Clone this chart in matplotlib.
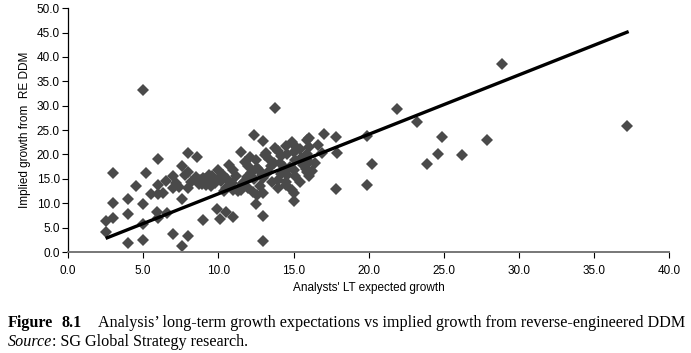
import matplotlib
matplotlib.use("Agg")
import matplotlib.pyplot as plt

# Analysts' LT expected growth (x) vs implied growth from RE DDM (y)
analyst_growth = [
    2.5, 2.5, 3.0, 3.0, 3.0, 4.0, 4.0, 4.0, 4.5, 5.0, 5.0, 5.0, 5.0, 5.2, 5.5,
    6.0, 6.0, 6.0, 5.9, 6.0, 6.5, 6.6, 7.0, 7.0, 7.0, 7.6, 7.6, 7.6, 8.0, 8.0,
    8.0, 8.0, 8.6, 9.0, 9.9, 10.1, 10.5, 11.0, 10.7, 10.0, 11.5, 12.4, 13.0,
    12.5, 13.0, 13.0, 13.0, 13.8, 14.0, 14.5, 15.0, 15.0, 15.4, 15.9, 15.9,
    16.4, 17.0, 16.9, 17.8, 17.9, 17.8, 19.9, 20.2, 19.9, 21.9, 23.2, 23.9,
    24.6, 24.9, 26.2, 27.9, 28.9, 37.2,
    7.8, 8.5, 8.8, 9.0, 9.3, 9.6, 9.2, 8.7, 9.8, 10.0, 10.2, 9.5,
    10.3, 10.6, 10.8, 11.0, 10.5, 11.2, 11.0, 10.4,
    11.8, 12.0, 12.2, 12.4, 11.7, 12.0, 12.3, 12.6, 11.5, 12.8, 12.5, 12.1, 12.7,
    13.2, 13.4, 13.5, 13.3, 13.0, 13.6, 13.8, 14.0, 14.2, 14.1, 14.3, 14.5, 14.6,
    14.8, 14.6, 15.0, 15.0, 15.1, 15.0, 15.1, 14.0,
    15.4, 15.9, 16.0, 15.8, 16.0, 16.2, 15.5, 16.0, 14.9, 16.0, 14.9, 14.5, 14.2,
    8.2, 8.9, 9.4, 9.1, 10.9, 11.3, 11.6, 12.9, 13.7, 14.4, 6.3, 7.2, 7.4,
    9.7, 11.9, 12.6, 13.1, 15.2, 15.6, 16.6,
]
implied_growth = [
    6.3, 4.2, 16.1, 10.0, 7.0, 10.9, 7.8, 1.8, 13.5, 33.3, 9.9, 5.8, 2.5, 16.3, 11.9,
    19.1, 13.8, 11.9, 8.3, 7.0, 14.5, 8.0, 15.6, 13.1, 3.6, 17.6, 10.9, 1.3, 20.3, 16.5,
    13.1, 3.2, 19.5, 6.6, 8.8, 6.8, 8.2, 7.2, 17.9, 16.9, 20.5, 24.0, 22.7,
    9.9, 7.3, 2.2, 12.1, 29.5, 14.8, 13.8, 12.2, 10.4, 14.3, 23.0, 16.5,
    18.2, 24.2, 20.4, 23.6, 20.2, 13.0, 23.7, 18.1, 13.8, 29.4, 26.6, 18.0,
    20.1, 23.5, 19.9, 23.0, 38.5, 25.8,
    15.8, 15.3, 14.8, 15.2, 14.5, 15.6, 13.8, 14.0, 14.2, 15.0, 14.6, 13.5,
    15.8, 14.9, 13.8, 12.8, 13.2, 15.5, 16.8, 12.5,
    18.5, 17.6, 16.2, 15.0, 14.4, 13.2, 12.3, 11.6, 12.8, 13.6, 18.9, 19.4, 16.8,
    20.2, 19.0, 17.6, 16.4, 15.2, 14.3, 21.4, 20.8, 19.6, 18.2, 16.6, 21.8, 20.0,
    17.4, 15.8, 22.0, 20.6, 18.8, 16.9, 15.5, 13.2,
    21.2, 20.1, 18.4, 17.0, 15.5, 16.6, 19.3, 23.3, 22.6, 21.5, 12.7, 14.4, 15.9,
    14.3, 13.9, 15.8, 14.9, 14.1, 12.6, 13.9, 15.7, 18.2, 17.5, 12.1, 14.2, 13.3,
    14.8, 15.3, 17.3, 19.8, 21.1, 17.9, 21.9,
]

# Trend line end points
trend_x = [2.5, 37.3]
trend_y = [2.8, 45.2]

x_ticks = [0.0, 5.0, 10.0, 15.0, 20.0, 25.0, 30.0, 35.0, 40.0]
y_ticks = [0.0, 5.0, 10.0, 15.0, 20.0, 25.0, 30.0, 35.0, 40.0, 45.0, 50.0]

plt.rcParams["font.family"] = ["Liberation Sans", "DejaVu Sans"]

fig = plt.figure(figsize=(6.91, 3.53), dpi=100)
ax = fig.add_axes([0.0985, 0.286, 0.870, 0.691])

ax.plot(analyst_growth, implied_growth, linestyle="none", marker="D",
        markersize=6.3, color="#4a4a4a", markeredgewidth=0)
ax.plot(trend_x, trend_y, color="black", linewidth=2.4, solid_capstyle="butt")

ax.set_xlim(0, 40)
ax.set_ylim(0, 50)
ax.set_xticks(x_ticks)
ax.set_yticks(y_ticks)
ax.set_xticklabels([f"{v:.1f}" for v in x_ticks])
ax.set_yticklabels([f"{v:.1f}" for v in y_ticks])

for s in ["top", "right"]:
    ax.spines[s].set_visible(False)
ax.spines["left"].set_color("black")
ax.spines["left"].set_linewidth(0.9)
ax.spines["bottom"].set_color("#777777")
ax.spines["bottom"].set_linewidth(1.4)

ax.tick_params(axis="y", direction="out", length=4, width=0.8, colors="black",
               labelsize=8.5, pad=2)
ax.tick_params(axis="x", direction="out", length=4, width=0.8, colors="black",
               labelsize=8.5, pad=5)

ax.set_xlabel("Analysts' LT expected growth", fontsize=8.5, labelpad=4)
ax.set_ylabel("Implied growth from  RE DDM", fontsize=8.5, labelpad=4)

serif = ["Liberation Serif", "DejaVu Serif"]
cap_y = 1 - 327 / 353
src_y = 1 - 346 / 353
cap_fs = 11.6

fig.text(8 / 691, cap_y, "Figure", fontsize=cap_fs, family=serif,
         fontweight="bold", va="baseline", ha="left")
fig.text(62 / 691, cap_y, "8.1", fontsize=cap_fs, family=serif,
         fontweight="bold", va="baseline", ha="left")
fig.text(98 / 691, cap_y,
         "Analysis\u2019 long-term growth expectations vs implied growth from reverse-engineered DDM",
         fontsize=cap_fs, family=serif, va="baseline", ha="left")
src = fig.text(8 / 691, src_y, "Source", fontsize=cap_fs, family=serif,
               style="italic", va="baseline", ha="left")
fig.canvas.draw()
bb = src.get_window_extent(renderer=fig.canvas.get_renderer())
fig.text(bb.x1 / fig.bbox.width, src_y, ": SG Global Strategy research.",
         fontsize=cap_fs, family=serif, va="baseline", ha="left")

fig.savefig("out.png", dpi=100)
